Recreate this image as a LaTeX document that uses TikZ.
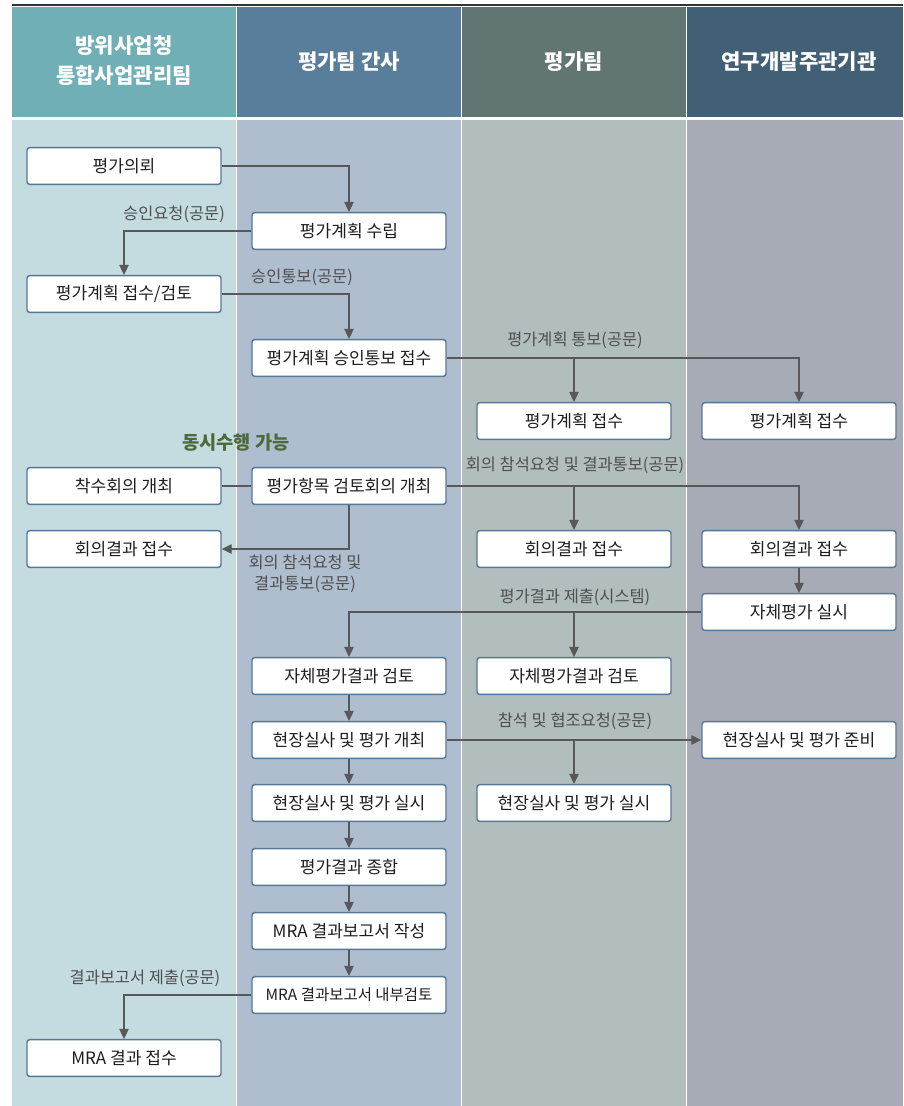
\documentclass[tikz,border=0pt]{standalone}
\usepackage{fontspec}
\setmainfont{Noto Sans CJK KR}
\usepackage{tikz}
\usetikzlibrary{arrows.meta,positioning,calc}
\definecolor{headA}{RGB}{113,175,182}
\definecolor{headB}{RGB}{88,126,155}
\definecolor{headC}{RGB}{97,117,114}
\definecolor{headD}{RGB}{65,96,117}
\definecolor{laneA}{RGB}{196,219,224}
\definecolor{laneB}{RGB}{175,190,206}
\definecolor{laneC}{RGB}{178,190,189}
\definecolor{laneD}{RGB}{167,171,182}
\definecolor{boxline}{RGB}{84,120,150}
\definecolor{flowgray}{RGB}{88,88,88}
\definecolor{textdark}{RGB}{30,30,30}
\definecolor{greenlbl}{RGB}{76,106,58}
\tikzset{
  procbox/.style={draw=boxline, line width=1.1pt, fill=white, rounded corners=2pt,
    minimum width=145.5pt, minimum height=27.5pt, inner sep=1pt,
    text=textdark, font=\fontsize{12.8}{14}\selectfont},
  flow/.style={draw=flowgray, line width=1.1pt, -{Triangle[length=7.5pt,width=7pt]}},
  plainflow/.style={draw=flowgray, line width=1.1pt},
  flowlbl/.style={text=flowgray!90!black, font=\fontsize{12.3}{15.5}\selectfont, inner sep=1pt},
  lanehead/.style={text=white, font=\fontsize{15.8}{22.5}\selectfont\bfseries, align=center}
}
\begin{document}
\begin{tikzpicture}[x=0.75pt, y=-0.75pt]
  \useasboundingbox (0,0) rectangle (903,1106);
  % lanes
  \foreach \x/\w/\hc/\bc in {12/224/headA/laneA, 237/224/headB/laneB, 462/224/headC/laneC, 687/216/headD/laneD} {
    \fill[\hc] (\x,7) rectangle ++(\w,110);
    \fill[\bc] (\x,120) rectangle ++(\w,986);
  }
  \draw[line width=1.5pt, black!80] (12,5.5) -- (903,5.5);
  \node[lanehead] (hA) at (124,61) {방위사업청\\통합사업관리팀};
  \node[lanehead] (hB) at (349,62) {평가팀 간사};
  \node[lanehead] (hC) at (574,62) {평가팀};
  \node[lanehead] (hD) at (799,62) {연구개발주관기관};

  % steps
  \node[procbox] (req) at (124,166) {평가의뢰};
  \node[procbox] (plan) at (349,231) {평가계획 수립};
  \node[procbox] (planrev) at (124,294) {평가계획 접수/검토};
  \node[procbox] (apprv) at (349,358) {평가계획 승인통보 접수};
  \node[procbox] (rcvC) at (574,421) {평가계획 접수};
  \node[procbox] (rcvD) at (799,421) {평가계획 접수};
  \node[procbox] (kick) at (124,486) {착수회의 개최};
  \node[procbox] (review) at (349,486) {평가항목 검토회의 개최};
  \node[procbox] (mresA) at (124,549) {회의결과 접수};
  \node[procbox] (mresC) at (574,549) {회의결과 접수};
  \node[procbox] (mresD) at (799,549) {회의결과 접수};
  \node[procbox] (selfD) at (799,612) {자체평가 실시};
  \node[procbox] (selfB) at (349,676) {자체평가결과 검토};
  \node[procbox] (selfC) at (574,676) {자체평가결과 검토};
  \node[procbox] (siteB) at (349,740) {현장실사 및 평가 개최};
  \node[procbox] (prepD) at (799,740) {현장실사 및 평가 준비};
  \node[procbox] (doB) at (349,803) {현장실사 및 평가 실시};
  \node[procbox] (doC) at (574,803) {현장실사 및 평가 실시};
  \node[procbox] (sum) at (349,867) {평가결과 종합};
  \node[procbox] (write) at (349,931) {MRA 결과보고서 작성};
  \node[procbox, font=\fontsize{11.6}{13}\selectfont] (check) at (349,995) {MRA 결과보고서 내부검토};
  \node[procbox] (final) at (124,1058) {MRA 결과 접수};

  % labels
  \node[flowlbl] (l1) at (174,214) {승인요청(공문)};
  \node[flowlbl] (l2) at (302,277) {승인통보(공문)};
  \node[flowlbl] (l3) at (575,340) {평가계획 통보(공문)};
  \node[text=greenlbl, font=\fontsize{14}{16}\selectfont\bfseries] (sim) at (236,443) {동시수행 가능};
  \node[flowlbl] (l4) at (575,465) {회의 참석요청 및 결과통보(공문)};
  \node[flowlbl, align=center] (l5) at (305,574) {회의 참석요청 및\\결과통보(공문)};
  \node[flowlbl] (l6) at (575,597) {평가결과 제출(시스템)};
  \node[flowlbl] (l7) at (575,721) {참석 및 협조요청(공문)};
  \node[flowlbl] (l8) at (145,978) {결과보고서 제출(공문)};

  % connectors
  \draw[flow] (req.east) -| (plan.north);
  \draw[flow] (plan.west) -| (planrev.north);
  \draw[flow] (planrev.east) -| (apprv.north);
  \draw[flow] (apprv.east) -| (rcvD.north);
  \draw[flow] (apprv.east -| rcvC.north) -- (rcvC.north);
  \draw[plainflow] (kick.east) -- (review.west);
  \draw[flow] (review.east) -| (mresD.north);
  \draw[flow] (review.east -| mresC.north) -- (mresC.north);
  \draw[flow] (review.south) |- (mresA.east);
  \draw[flow] (mresD) -- (selfD);
  \draw[flow] (selfD.west) -| (selfB.north);
  \draw[flow] (selfD.west -| selfC.north) -- (selfC.north);
  \draw[flow] (selfB) -- (siteB);
  \draw[flow] (siteB) -- (prepD);
  \draw[flow] (siteB.east -| doC.north) -- (doC.north);
  \draw[flow] (siteB) -- (doB);
  \draw[flow] (doB) -- (sum);
  \draw[flow] (sum) -- (write);
  \draw[flow] (write) -- (check);
  \draw[flow] (check.west) -| (final.north);
\end{tikzpicture}
\end{document}
